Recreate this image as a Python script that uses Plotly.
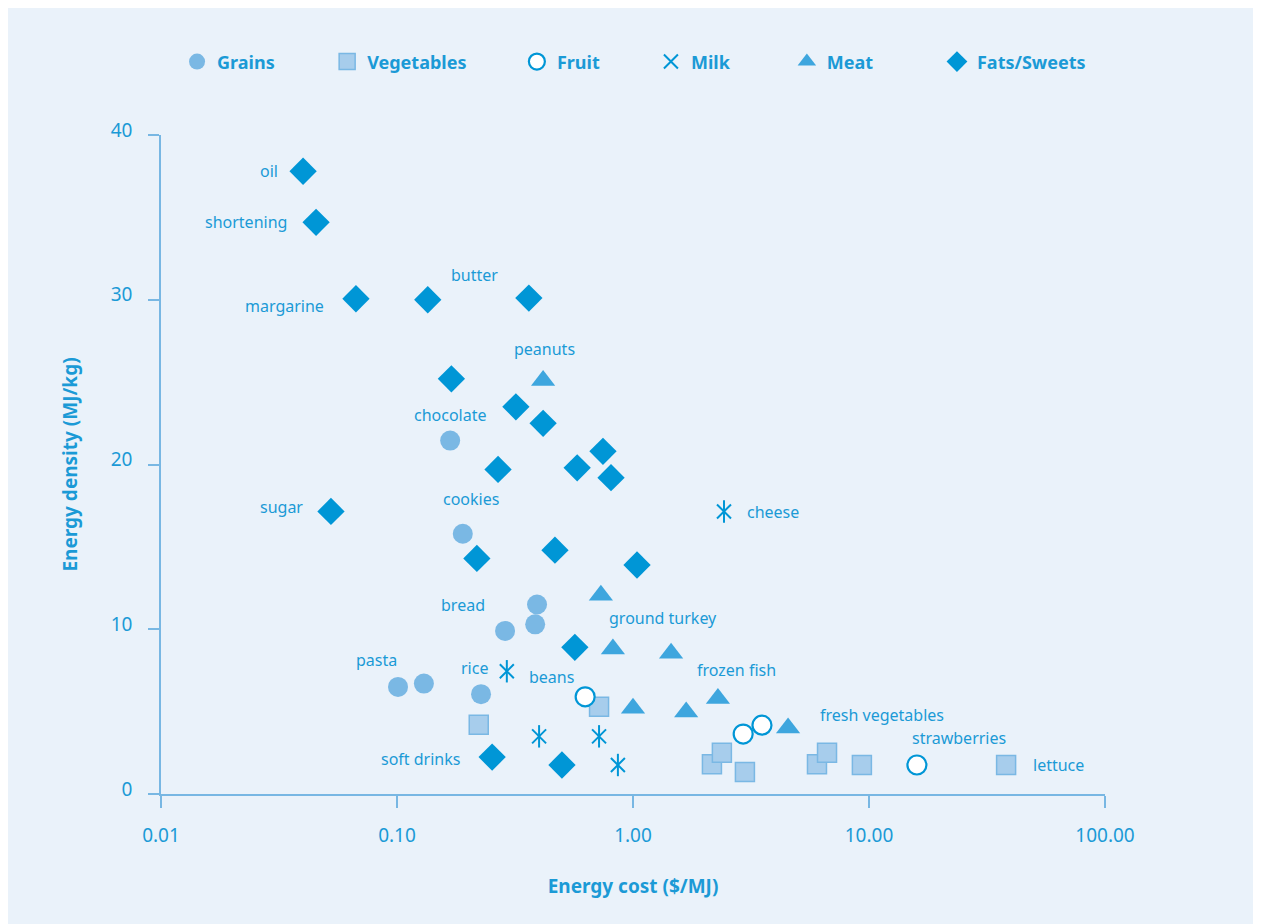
import numpy as np
import plotly.graph_objects as go

# energy cost ($/MJ) and energy density (MJ/kg) per food group
grains_x = [0.168, 0.19, 0.392, 0.385, 0.287, 0.101, 0.130, 0.227]
grains_y = [21.45, 15.8, 11.5, 10.3, 9.9, 6.5, 6.7, 6.06]

veg_x = [0.222, 0.718, 2.16, 2.38, 2.98, 6.02, 6.64, 9.33, 38.1]
veg_y = [4.2, 5.3, 1.8, 2.5, 1.33, 1.8, 2.5, 1.76, 1.76]

fruit_x = [0.627, 2.93, 3.52, 15.96]
fruit_y = [5.9, 3.64, 4.18, 1.76]

milk_x = [2.43, 0.292, 0.40, 0.718, 0.863]
milk_y = [17.15, 7.45, 3.5, 3.5, 1.76]

meat_x = [0.416, 0.731, 0.822, 1.45, 1.0, 1.68, 2.29, 4.54]
meat_y = [25.1, 12.06, 8.8, 8.55, 5.2, 4.97, 5.8, 4.0]

fats_x = [0.040, 0.0454, 0.067, 0.135, 0.362, 0.170, 0.319, 0.416, 0.746, 0.268,
          0.580, 0.807, 0.0525, 0.218, 0.467, 1.04, 0.567, 0.253, 0.50]
fats_y = [37.8, 34.7, 30.06, 30.0, 30.1, 25.2, 23.5, 22.5, 20.8, 19.7,
          19.8, 19.2, 17.15, 14.3, 14.8, 13.9, 8.9, 2.24, 1.76]

# point labels
label_text = ["oil", "shortening", "margarine", "butter", "peanuts", "chocolate", "cookies",
              "sugar", "cheese", "bread", "ground turkey", "pasta", "rice", "beans",
              "frozen fish", "fresh vegetables", "strawberries", "lettuce", "soft drinks"]
label_x = [0.0319, 0.0348, 0.050, 0.212, 0.420, 0.169, 0.206,
           0.0407, 2.98, 0.190, 0.776, 0.0822, 0.212, 0.450,
           1.83, 6.08, 14.9, 48.5, 0.188]
label_y = [37.8, 34.7, 29.6, 31.5, 27.0, 23.0, 17.9,
           17.4, 17.1, 11.5, 10.67, 8.12, 7.64, 7.09,
           7.5, 4.79, 3.39, 1.76, 2.12]
label_anchor = ["right", "right", "right", "center", "center", "center", "center",
                "right", "left", "center", "left", "center", "center", "center",
                "left", "left", "left", "left", "right"]

x_ticks = [0.01, 0.1, 1, 10, 100]
x_tick_text = ["0.01", "0.10", "1.00", "10.00", "100.00"]
y_ticks = [0, 10, 20, 30, 40]

TEXT = "#1b9ad6"
AXIS = "#78b7e3"
BG = "#eaf2fa"
FONT = "Noto Sans"

fig = go.Figure()
fig.add_trace(go.Scatter(x=grains_x, y=grains_y, mode="markers", name="Grains", legend="legend",
                         marker=dict(symbol="circle", size=20, color="#7ab8e4", line=dict(width=0))))
fig.add_trace(go.Scatter(x=veg_x, y=veg_y, mode="markers", name="Vegetables", legend="legend2",
                         marker=dict(symbol="square", size=19, color="#a7cdec",
                                     line=dict(width=1.5, color="#7ab8e4"))))
fig.add_trace(go.Scatter(x=fruit_x, y=fruit_y, mode="markers", name="Fruit", legend="legend3",
                         marker=dict(symbol="circle", size=19, color="white",
                                     line=dict(width=2.2, color="#0096d6"))))
fig.add_trace(go.Scatter(x=milk_x, y=milk_y, mode="markers", name="Milk", legend="legend4",
                         marker=dict(symbol="x-thin-open", size=14, color="#0096d6",
                                     line=dict(width=2, color="#0096d6"))))
fig.add_trace(go.Scatter(x=milk_x, y=milk_y, mode="markers", showlegend=False, hoverinfo="skip",
                         marker=dict(symbol="line-ns-open", size=16, color="#0096d6",
                                     line=dict(width=2, color="#0096d6"))))
fig.add_trace(go.Scatter(x=meat_x, y=meat_y, mode="markers", name="Meat", legend="legend5",
                         marker=dict(symbol="triangle-up", size=21, color="#3ea6de", line=dict(width=0))))
fig.add_trace(go.Scatter(x=fats_x, y=fats_y, mode="markers", name="Fats/Sweets", legend="legend6",
                         marker=dict(symbol="diamond", size=21, color="#0096d6", line=dict(width=0))))

for t, lx, ly, a in zip(label_text, label_x, label_y, label_anchor):
    fig.add_annotation(x=np.log10(lx), y=ly, text=t, showarrow=False, xanchor=a,
                       font=dict(family=FONT, size=16, color=TEXT))

legend_font = dict(family=FONT, size=18, color=TEXT, weight="bold")
legend_x = [0.017, 0.176, 0.377, 0.519, 0.663, 0.822]
legend_common = dict(orientation="h", yanchor="middle", y=1.111, xanchor="left",
                     bgcolor="rgba(0,0,0,0)", font=legend_font, itemsizing="trace")
fig.update_layout(
    width=1248, height=924,
    paper_bgcolor=BG, plot_bgcolor=BG,
    margin=dict(l=153, r=151, t=127, b=138),
    font=dict(family=FONT, color=TEXT),
    legend=dict(x=legend_x[0], **legend_common),
    legend2=dict(x=legend_x[1], **legend_common),
    legend3=dict(x=legend_x[2], **legend_common),
    legend4=dict(x=legend_x[3], **legend_common),
    legend5=dict(x=legend_x[4], **legend_common),
    legend6=dict(x=legend_x[5], **legend_common),
)
fig.update_xaxes(type="log", range=[-2, 2], tickvals=x_ticks, ticktext=x_tick_text,
                 showgrid=False, zeroline=False, showline=True, linecolor=AXIS, linewidth=1.5,
                 ticks="outside", ticklen=12, tickcolor=AXIS, tickwidth=1.5, ticklabelstandoff=11,
                 tickfont=dict(family=FONT, size=19, color=TEXT),
                 title=dict(text="Energy cost ($/MJ)", standoff=33,
                            font=dict(family=FONT, size=19, color=TEXT, weight="bold")))
fig.update_yaxes(range=[0, 40], tickvals=y_ticks, showgrid=False, zeroline=False,
                 showline=True, linecolor=AXIS, linewidth=1.5,
                 ticks="outside", ticklen=11, tickcolor=AXIS, tickwidth=1.5, ticklabelstandoff=12,
                 ticklabelshift=-5,
                 tickfont=dict(family=FONT, size=19, color=TEXT),
                 title=dict(text="Energy density (MJ/kg)", standoff=28,
                            font=dict(family=FONT, size=19, color=TEXT, weight="bold")))

fig.write_html("out.html")
